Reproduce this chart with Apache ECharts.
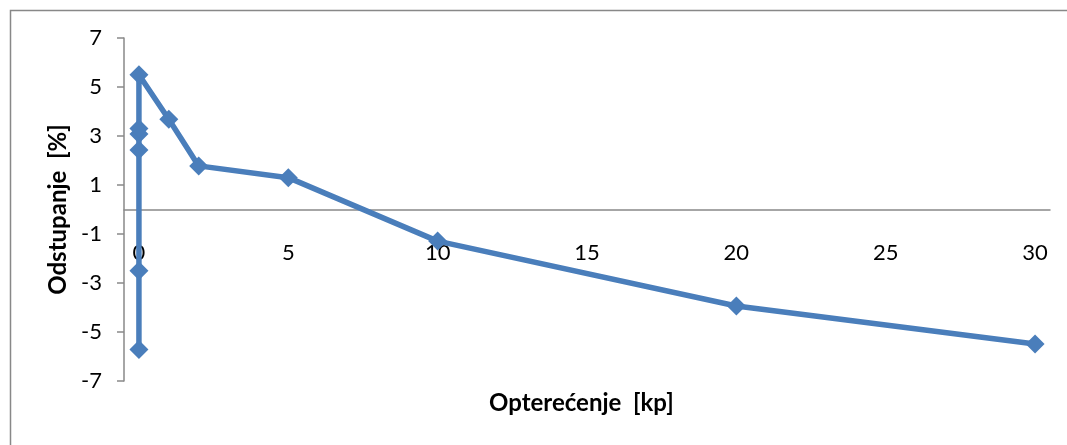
<!DOCTYPE html>
<html>
<head>
<meta charset="utf-8">
<script src="https://cdn.jsdelivr.net/npm/echarts@6/dist/echarts.min.js"></script>
<style>html,body{margin:0;padding:0;background:#fff}#c{width:1067px;height:445px}</style>
</head>
<body>
<div id="c"></div>
<script>
const xValues = [0, 0, 0, 0, 0, 0, 1, 2, 5, 10, 20, 30];
const yValues = [-5.71, -2.5, 2.43, 3.08, 3.31, 5.5, 3.68, 1.78, 1.3, -1.29, -3.94, -5.49];
const xTicks = [0, 5, 10, 15, 20, 25, 30];
const yTicks = [-7, -5, -3, -1, 1, 3, 5, 7];
const xTitle = 'Opterećenje  [kp]';
const yTitle = 'Odstupanje  [%]';

const chart = echarts.init(document.getElementById('c'));
const font = 'Lato, "Open Sans", sans-serif';
chart.setOption({
  animation: false,
  graphic: [{
    type: 'rect', left: 8, top: 8,
    shape: {x: 0, y: 0, width: 1070, height: 450},
    style: {fill: 'none', stroke: '#888', lineWidth: 1.5}, z: -1
  }, {
    type: 'text', left: 489, top: 391,
    style: {text: xTitle, font: 'bold 24px ' + font, fill: '#000'}
  }],
  grid: {left: 124, right: 17, top: 38, bottom: 64},
  xAxis: {
    type: 'value', min: -0.5, max: 30.5,
    offset: -171.5,
    axisLine: {onZero: false, lineStyle: {color: '#898989', width: 1.5}},
    axisTick: {show: false},
    splitLine: {show: false},
    axisLabel: {customValues: xTicks, margin: 32, fontSize: 22, color: '#000', fontFamily: font}
  },
  yAxis: {
    type: 'value', min: -7, max: 7,
    name: yTitle, nameLocation: 'middle', nameGap: 54, nameRotate: 90,
    nameTextStyle: {fontSize: 24, fontWeight: 'bold', color: '#000', fontFamily: font},
    axisLine: {show: true, onZero: false, lineStyle: {color: '#898989', width: 1.5}},
    axisTick: {show: true, customValues: yTicks, length: 7, lineStyle: {color: '#898989', width: 1.5}},
    splitLine: {show: false},
    axisLabel: {customValues: yTicks, margin: 22, fontSize: 22, color: '#000', fontFamily: font}
  },
  series: [{
    type: 'line',
    data: xValues.map((x, i) => [x, yValues[i]]),
    symbol: 'diamond', symbolSize: 19,
    lineStyle: {color: '#4a7ebb', width: 5.5},
    itemStyle: {color: '#4a7ebb'}
  }]
});
</script>
</body>
</html>
